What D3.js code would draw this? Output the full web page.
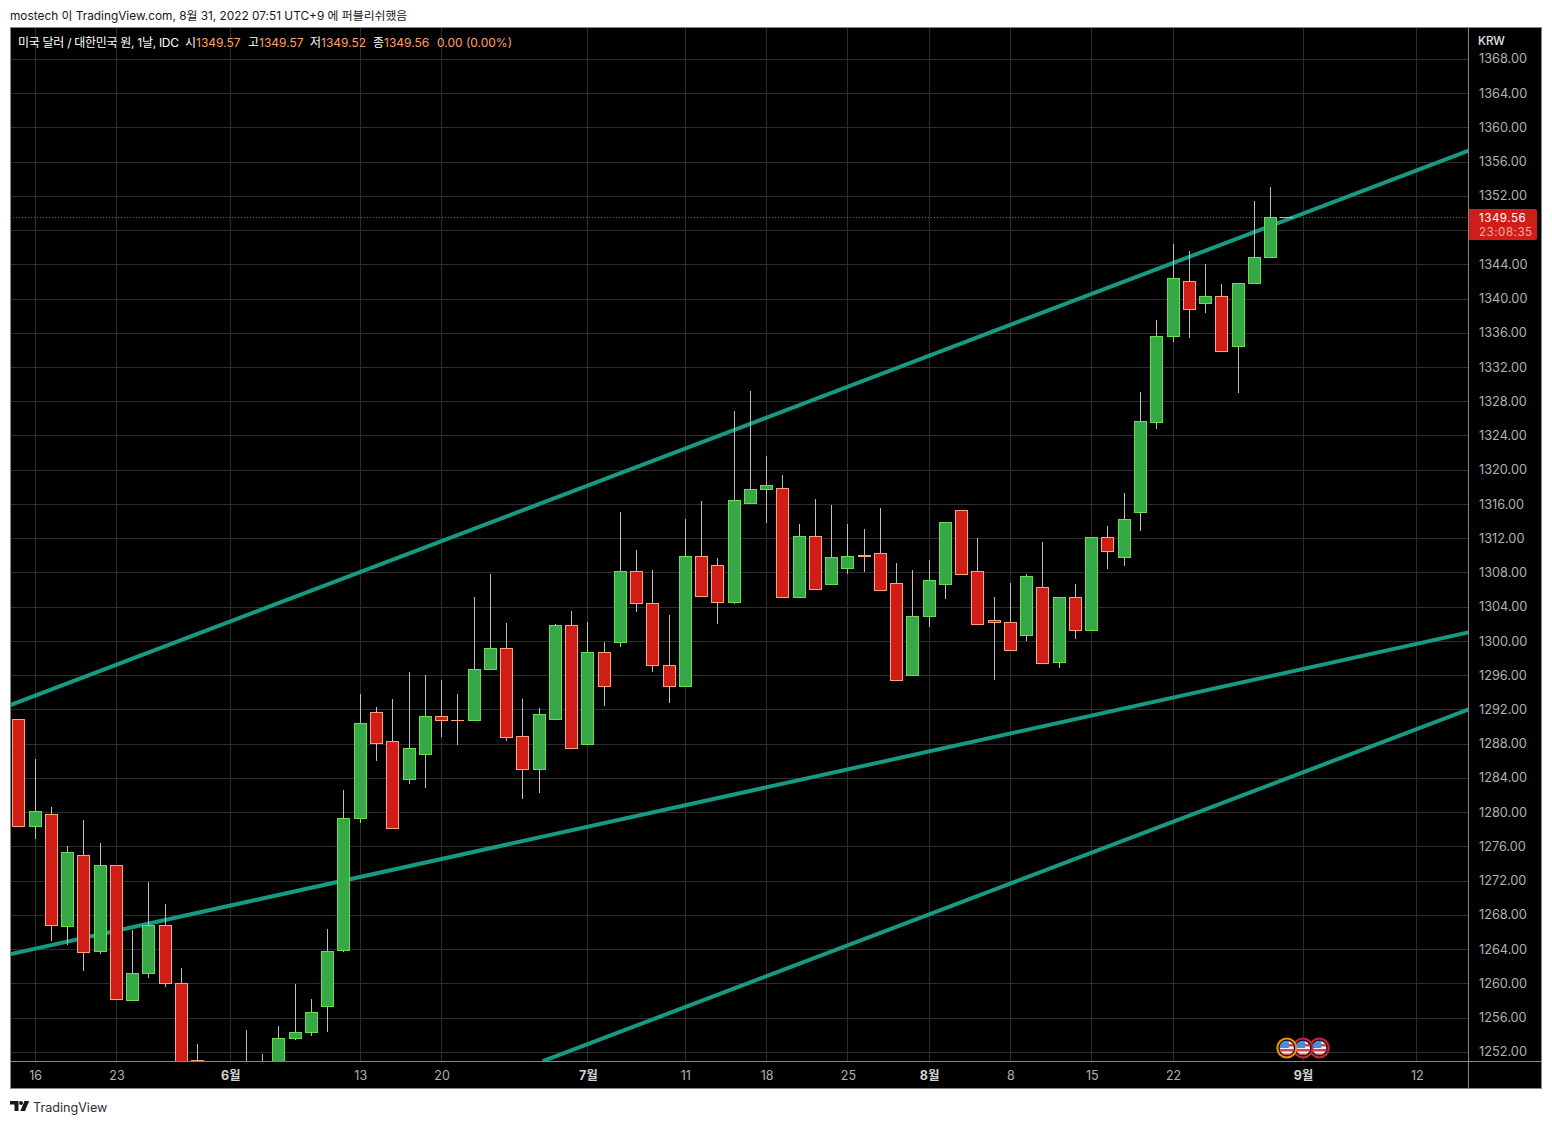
<!DOCTYPE html>
<html>
<head>
<meta charset="utf-8">
<script src="https://d3js.org/d3.v7.min.js"></script>
<style>
  html, body { margin: 0; padding: 0; background: #fff; }
  svg { display: block; }
  text { font-family: Inter, "Noto Sans CJK KR", sans-serif; }
</style>
</head>
<body>
<div id="chart_div"></div>
<script>
// trading days, May 13 - Aug 31 2022
const dates = ["05-13",
  "05-16","05-17","05-18","05-19","05-20","05-23","05-24","05-25","05-26","05-27",
  "05-30","05-31","06-01","06-02","06-03","06-06","06-07","06-08","06-09","06-10",
  "06-13","06-14","06-15","06-16","06-17","06-20","06-21","06-22","06-23","06-24",
  "06-27","06-28","06-29","06-30","07-01","07-04","07-05","07-06","07-07","07-08",
  "07-11","07-12","07-13","07-14","07-15","07-18","07-19","07-20","07-21","07-22",
  "07-25","07-26","07-27","07-28","07-29","08-01","08-02","08-03","08-04","08-05",
  "08-08","08-09","08-10","08-11","08-12","08-15","08-16","08-17","08-18","08-19",
  "08-22","08-23","08-24","08-25","08-26","08-29","08-30","08-31"];

// bars 10-15 run below the pane, their hidden parts are guesses
const opens = [1290.86,
  1278.37,1279.77,1266.64,1274.98,1263.72,1273.81,1258.00,1261.15,1266.80,1260.03,
  1251.05,1250.00,1246.00,1248.00,1247.00,1249.00,1253.56,1254.26,1257.30,1263.84,
  1279.26,1291.68,1288.29,1283.86,1286.78,1291.21,1290.78,1290.75,1296.70,1299.16,
  1288.88,1285.02,1290.93,1301.84,1287.94,1298.69,1299.86,1308.15,1304.41,1297.17,
  1294.72,1309.90,1308.85,1304.53,1316.09,1317.73,1317.84,1305.11,1312.24,1306.63,
  1308.57,1310.02,1310.25,1306.75,1296.00,1302.89,1306.63,1315.27,1308.15,1302.43,
  1302.19,1300.67,1306.28,1297.52,1305.11,1301.26,1312.12,1309.78,1315.04,1325.55,
  1335.59,1342.02,1339.45,1340.27,1334.43,1341.78,1344.82,1349.57];
const highs = [1290.86,
  1286.23,1280.62,1276.07,1279.10,1276.42,1273.81,1266.26,1271.86,1269.29,1261.82,
  1252.94,1250.50,1250.00,1254.58,1251.77,1255.04,1259.95,1258.20,1266.37,1282.61,
  1293.90,1292.30,1293.23,1296.39,1296.12,1295.45,1293.90,1305.15,1307.83,1302.11,
  1293.23,1292.18,1302.07,1303.51,1302.23,1299.89,1315.07,1310.64,1308.30,1303.04,
  1314.26,1316.36,1309.70,1326.87,1329.21,1321.61,1319.40,1313.67,1316.59,1315.89,
  1313.67,1313.09,1315.54,1309.12,1308.30,1309.47,1313.87,1315.27,1312.04,1305.15,
  1306.78,1307.83,1311.57,1305.11,1306.66,1312.12,1313.52,1317.29,1329.09,1337.50,
  1346.37,1345.56,1344.04,1341.70,1341.78,1351.51,1353.03,1349.57];
const lows = [1278.37,
  1276.92,1265.01,1264.54,1261.50,1263.49,1258.16,1258.00,1260.69,1259.60,1249.00,
  1249.00,1243.00,1244.00,1245.00,1245.00,1248.00,1253.45,1253.91,1254.38,1263.72,
  1278.79,1286.03,1278.13,1283.34,1282.87,1288.83,1287.90,1290.75,1296.70,1288.36,
  1281.59,1282.29,1290.93,1287.48,1287.94,1292.45,1299.34,1303.43,1296.42,1292.80,
  1294.72,1305.23,1302.03,1304.37,1316.09,1313.79,1305.11,1305.11,1306.05,1306.63,
  1307.87,1308.10,1305.93,1295.42,1296.00,1301.68,1304.95,1307.80,1301.96,1295.49,
  1298.92,1300.04,1297.40,1296.89,1300.28,1301.26,1308.45,1308.80,1312.89,1324.80,
  1334.96,1335.43,1338.31,1333.84,1329.01,1341.78,1344.82,1349.52];
const closes = [1278.37,
  1280.12,1266.76,1275.33,1263.60,1273.81,1258.16,1261.20,1266.80,1259.98,1250.50,
  1250.50,1246.00,1248.00,1247.00,1249.00,1253.61,1254.31,1256.65,1263.77,1279.30,
  1290.39,1288.06,1278.13,1287.48,1291.21,1290.75,1290.72,1296.70,1299.16,1288.83,
  1285.02,1291.45,1301.84,1287.48,1298.69,1294.72,1308.15,1304.41,1297.17,1294.72,
  1309.90,1305.23,1304.53,1316.44,1317.73,1318.19,1305.11,1312.24,1306.05,1309.78,
  1309.90,1309.96,1305.93,1295.42,1302.89,1307.10,1313.87,1307.80,1301.96,1302.19,
  1298.92,1307.56,1297.40,1305.11,1301.26,1312.12,1310.48,1314.22,1325.67,1335.59,
  1342.37,1338.75,1340.27,1333.84,1341.78,1344.82,1349.49,1349.56];

// price axis
const priceTicks = d3.range(1252, 1369, 4);
const lastPrice = 1349.56;
const lastCountdown = "23:08:35";

// time axis: position in dates[] -> label
const timeTickPos = [1, 6, 13, 21, 26, 35, 41, 46, 51, 56, 61, 66, 71, 79, 86];
const timeTickLabels = ["16", "23", "6월", "13", "20", "7월", "11", "18", "25", "8월", "8", "15", "22", "9월", "12"];
const monthLabels = ["6월", "7월", "8월", "9월"];

// hand drawn trend lines: [position, price] at each end
const trendLines = [
  [[-0.57, 1292.53], [89.2, 1357.35]],
  [[-0.57, 1263.45], [89.2, 1301.06]],
  [[32.23, 1250.96], [89.2, 1292.07]]
];

// economic calendar flags, first one is drawn on top
const eventPos = [80, 79, 78];
const eventRings = ["#c8283c", "#c8283c", "#ef9308"];

const legendTexts = ["미국 달러 / 대한민국 원, 1날, IDC", "시", "1349.57", "고", "1349.57", "저", "1349.52", "종", "1349.56", "0.00 (0.00%)"];

const white = "#fff", orange = "#ffa26e";
const legendColors = [white, white, orange, white, orange, white, orange, white, orange, orange];
const legendX = [18, 185, 196, 248, 259, 310, 321, 373, 384, 437];

const upFill = "#36a848", upEdge = "#69df4c";
const downFill = "#cf1e18", downEdge = "#ffa37a";
const wickColor = "#bdbdbd", gridColor = "#2d2d2d", frameColor = "#858585";
const trendColor = "#169a82";

const W = 1552, H = 1124;
const paneLeft = 10, paneRight = 1468, paneTop = 27, paneBottom = 1061, outerRight = 1542, outerBottom = 1089;

const svg = d3.select("#chart_div").append("svg").attr("width", W).attr("height", H);

svg.append("text").attr("x", 10).attr("y", 19.5)
  .attr("font-size", 11.85).attr("fill", "#131722")
  .text("mostech 이 TradingView.com, 8월 31, 2022 07:51 UTC+9 에 퍼블리쉬했음");

svg.append("rect").attr("x", paneLeft).attr("y", paneTop)
  .attr("width", outerRight - paneLeft).attr("height", outerBottom - paneTop).attr("fill", "#000");

const x = d3.scaleLinear().domain([-0.5475, 89.148]).range([paneLeft, paneRight]);
const y = d3.scaleLinear().domain([1250.98, 1371.78]).range([paneBottom, paneTop]);
const crisp = v => Math.floor(v) + 0.5;

const defs = svg.append("defs");
defs.append("clipPath").attr("id", "pane").append("rect")
  .attr("x", paneLeft).attr("y", paneTop).attr("width", paneRight - paneLeft).attr("height", paneBottom - paneTop);

const pane = svg.append("g").attr("clip-path", "url(#pane)");

// Grid
pane.append("g").selectAll("line").data(priceTicks).enter().append("line")
  .attr("x1", paneLeft).attr("x2", paneRight)
  .attr("y1", d => crisp(y(d))).attr("y2", d => crisp(y(d)))
  .attr("stroke", gridColor);
pane.append("g").selectAll("line").data(timeTickPos).enter().append("line")
  .attr("y1", paneTop).attr("y2", paneBottom)
  .attr("x1", d => crisp(x(d))).attr("x2", d => crisp(x(d)))
  .attr("stroke", gridColor);

// Last price line
pane.append("line").attr("x1", paneLeft).attr("x2", paneRight)
  .attr("y1", crisp(y(lastPrice))).attr("y2", crisp(y(lastPrice)))
  .attr("stroke", "#cf3a30").attr("stroke-dasharray", "1,2");

// Trend lines
const trendPath = d3.line().x(d => x(d[0])).y(d => y(d[1]));
pane.append("g").selectAll("path").data(trendLines).enter().append("path")
  .attr("d", trendPath).attr("fill", "none")
  .attr("stroke", trendColor).attr("stroke-width", 4);

// Candles
const candles = pane.append("g").selectAll("g").data(dates).enter().append("g");
candles.append("line")
  .attr("x1", (d, i) => crisp(x(i))).attr("x2", (d, i) => crisp(x(i)))
  .attr("y1", (d, i) => Math.round(y(highs[i]))).attr("y2", (d, i) => Math.round(y(lows[i])))
  .attr("stroke", wickColor);
// a doji has no height, keep 0.01 so its stroke is still drawn
candles.append("rect")
  .attr("x", (d, i) => crisp(x(i)) - 6)
  .attr("width", 12)
  .attr("y", (d, i) => crisp(y(Math.max(opens[i], closes[i]))))
  .attr("height", (d, i) => Math.max(0.01, crisp(y(Math.min(opens[i], closes[i]))) - crisp(y(Math.max(opens[i], closes[i])))))
  .attr("fill", (d, i) => closes[i] > opens[i] ? upFill : downFill)
  .attr("stroke", (d, i) => closes[i] > opens[i] ? upEdge : downEdge);

// Event flags
const flags = pane.append("g").selectAll("g").data(eventPos).enter().append("g")
  .attr("transform", d => "translate(" + x(d) + ",1048)");
flags.append("circle").attr("r", 10).attr("fill", "#000");
flags.append("circle").attr("r", 9.5).attr("fill", "#1a1a1a")
  .attr("stroke", (d, i) => eventRings[i]).attr("stroke-width", 2);
eventPos.forEach((d, i) => {
  const id = "flag" + i;
  defs.append("clipPath").attr("id", id).append("circle").attr("r", 7);
  const g = d3.select(flags.nodes()[i]).append("g").attr("clip-path", "url(#" + id + ")");
  g.append("rect").attr("x", -8).attr("y", -8).attr("width", 16).attr("height", 16).attr("fill", "#f4f4f4");
  g.append("rect").attr("x", -8).attr("y", -4).attr("width", 16).attr("height", 2.5).attr("fill", "#e0394a");
  g.append("rect").attr("x", -8).attr("y", 1).attr("width", 16).attr("height", 2.5).attr("fill", "#e0394a");
  g.append("rect").attr("x", -8).attr("y", 5.5).attr("width", 16).attr("height", 2.5).attr("fill", "#e0394a");
  g.append("rect").attr("x", -8).attr("y", -8).attr("width", 10).attr("height", 8).attr("fill", "#3f8fe8");
});

// Legend
svg.append("g").selectAll("text").data(legendTexts).enter().append("text")
  .attr("x", (d, i) => legendX[i]).attr("y", 46.5)
  .attr("font-size", 12).attr("fill", (d, i) => legendColors[i]).text(d => d)
  .filter((d, i) => i === 0).attr("textLength", 161);

// Axes
const yAxis = d3.axisRight(y).tickValues(priceTicks).tickFormat(d3.format(".2f")).tickSize(0).tickPadding(11);
const yG = svg.append("g").attr("transform", "translate(" + paneRight + ",-0.5)").call(yAxis);
yG.select(".domain").remove();
yG.selectAll("text").attr("font-size", 12.75).attr("fill", "#b2b2b2")
  .style("font-family", "Inter, 'Noto Sans CJK KR', sans-serif");

const xAxis = d3.axisBottom(x).tickValues(timeTickPos)
  .tickFormat((d, i) => timeTickLabels[i]).tickSize(0).tickPadding(10);
const xG = svg.append("g").attr("transform", "translate(0," + paneBottom + ")").call(xAxis);
xG.select(".domain").remove();
xG.selectAll("text").attr("font-size", 12.5).attr("fill", "#b2b2b2")
  .style("font-family", "Inter, 'Noto Sans CJK KR', sans-serif");
xG.selectAll("text").filter(d => monthLabels.includes(timeTickLabels[timeTickPos.indexOf(d)]))
  .attr("font-weight", 700).attr("fill", "#d4d4d4");

svg.append("text").attr("x", 1478).attr("y", 45)
  .attr("font-size", 11.5).attr("font-weight", 500).attr("fill", "#e6e6e6").text("KRW");

// Last price tag
svg.append("rect").attr("x", 1468).attr("y", 209).attr("width", 69).attr("height", 31).attr("rx", 2)
  .attr("fill", "#cf1e18");
svg.append("text").attr("x", 1479).attr("y", 221.5).attr("font-size", 11.6).attr("letter-spacing", 0.5)
  .attr("fill", "#fff").text(d3.format(".2f")(lastPrice));
svg.append("text").attr("x", 1479).attr("y", 236).attr("font-size", 11.6).attr("letter-spacing", 0.5)
  .attr("fill", "#f3a9a5").text(lastCountdown);

// Frame
const frame = svg.append("g").attr("fill", "none").attr("stroke", frameColor);
frame.append("rect").attr("x", paneLeft + 0.5).attr("y", paneTop + 0.5)
  .attr("width", outerRight - paneLeft - 1).attr("height", outerBottom - paneTop - 1);
frame.append("line").attr("x1", paneRight + 0.5).attr("x2", paneRight + 0.5).attr("y1", paneTop).attr("y2", outerBottom);
frame.append("line").attr("x1", paneLeft).attr("x2", outerRight).attr("y1", paneBottom + 0.5).attr("y2", paneBottom + 0.5);

// TradingView logo
const logo = svg.append("g").attr("fill", "#131722");
logo.append("path").attr("d", "M10 1101h8.5v10h-4v-6.4h-4.5z");
logo.append("circle").attr("cx", 21).attr("cy", 1103).attr("r", 2);
logo.append("path").attr("d", "M24.5 1101h4.7l-4.2 10h-4.7z");
svg.append("text").attr("x", 33).attr("y", 1112).attr("font-size", 12.6).attr("fill", "#2a2e39").text("TradingView");
</script>
</body>
</html>
